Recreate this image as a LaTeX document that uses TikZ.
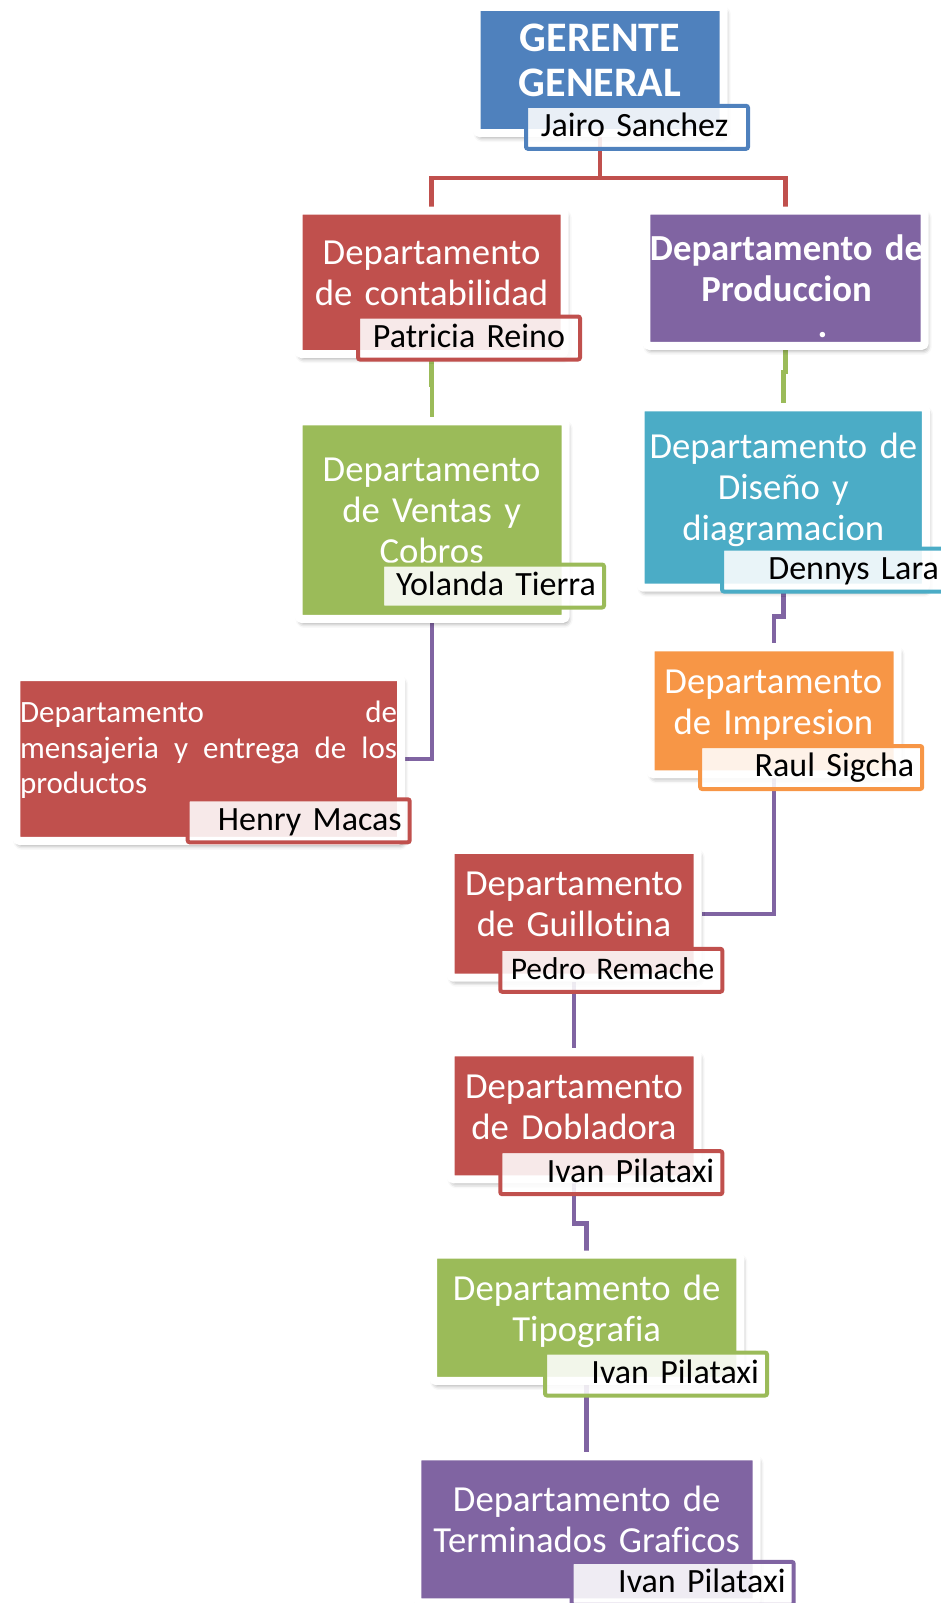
\documentclass[tikz,border=0pt]{standalone}
\usepackage{fontspec}
\setmainfont{Carlito}[Ligatures=NoCommon]
\usetikzlibrary{backgrounds,shadows.blur}

\definecolor{ofblue}{HTML}{4F81BD}
\definecolor{ofred}{HTML}{C0504D}
\definecolor{ofgreen}{HTML}{9BBB59}
\definecolor{ofpurple}{HTML}{8064A2}
\definecolor{ofaqua}{HTML}{4BACC6}
\definecolor{oforange}{HTML}{F79646}

\begin{document}
\begin{tikzpicture}[x=1pt,y=-1pt,
  dept/.style={draw=white,line width=8pt,fill=#1,rounded corners=3pt,inner sep=0pt,
    blur shadow={shadow xshift=2pt,shadow yshift=-4pt,shadow blur radius=5pt,shadow opacity=45}},
  dtext/.style={text=white,align=center,text width=330pt,inner sep=0pt,anchor=base,
    font=\fontsize{36.7}{41}\selectfont},
  boss/.style={dtext,font=\fontsize{42}{45}\selectfont\bfseries},
  pname/.style={draw=#1,line width=4pt,rounded corners=2pt,fill=white,fill opacity=0.88,
    text opacity=1,text=black,text width=206pt,align=right,inner xsep=8pt,
    minimum height=43pt,text height=18.6pt,text depth=0pt,
    font=\fontsize{34}{40}\selectfont},
  link/.style={draw=#1,line width=4.5pt}]
\useasboundingbox (0,0) rectangle (941,1603);

\node[dept=ofblue,minimum width=247pt,minimum height=126pt] (ger) at (600.2,70) {};
\node[boss] (gerT) at (600,51.7) {GERENTE\\GENERAL};
\node[pname=ofblue] (gerN) at (637,127.3) {Jairo Sanchez\kern11.7pt};

\node[dept=ofred,minimum width=266pt,minimum height=143.4pt] (cont) at (431.6,282.3) {};
\node[dtext] (contT) at (431.6,264) {Departamento\\de contabilidad};
\node[pname=ofred] (contN) at (469,338) {Patricia Reino\kern7pt};

\node[dept=ofpurple,minimum width=278.4pt,minimum height=135.2pt] (prod) at (785.5,278.2) {};
\node[dtext,font=\fontsize{36.7}{41}\selectfont\bfseries] (prodT) at (786.5,260)
  {Departamento de\\Produccion\\[-5pt]\hspace*{72pt}.};

\node[dept=ofgreen,minimum width=267pt,minimum height=197.6pt] (vent) at (432.2,520.1) {};
\node[dtext] (ventT) at (431.6,481) {Departamento\\de Ventas y\\Cobros};
\node[pname=ofgreen] (ventN) at (493,586) {Yolanda Tierra};

\node[dept=ofaqua,minimum width=285.3pt,minimum height=180.4pt] (dis) at (783.3,497.5) {};
\node[dtext] (disT) at (783.3,458.3) {Departamento de\\Diseño y\\diagramacion};
\node[pname=ofaqua] (disN) at (833,570) {Dennys Lara\kern-3pt};

\node[dept=oforange,minimum width=247pt,minimum height=127pt] (imp) at (774.2,710.8) {};
\node[dtext] (impT) at (773.3,693.3) {Departamento\\de Impresion};
\node[pname=oforange] (impN) at (811.2,767.5) {Raul Sigcha};

\node[dept=ofred,minimum width=384.7pt,minimum height=163.8pt] (mens) at (208.7,758.9) {};
\node[dtext,text width=377pt,align=justify,anchor=base west,font=\fontsize{31}{35.5}\selectfont]
  (mensT) at (19.8,722.7) {Departamento de\linebreak mensajeria y entrega de los productos};
\node[pname=ofred] (mensN) at (298.7,820.8) {Henry Macas};

\node[dept=ofred,minimum width=247pt,minimum height=127.7pt] (guil) at (574.2,913.8) {};
\node[dtext] (guilT) at (574,895) {Departamento\\de Guillotina};
\node[pname=ofred,font=\fontsize{31.5}{38}\selectfont] (guilN) at (611.3,970.3) {Pedro Remache};

\node[dept=ofred,minimum width=247pt,minimum height=127pt] (dobl) at (574.2,1115.8) {};
\node[dtext] (doblT) at (574,1098.3) {Departamento\\de Dobladora};
\node[pname=ofred] (doblN) at (611.3,1172.7) {Ivan Pilataxi};

\node[dept=ofgreen,minimum width=307.3pt,minimum height=126.3pt] (tipo) at (586.7,1317.8) {};
\node[dtext] (tipoT) at (586.7,1300) {Departamento de\\Tipografia};
\node[pname=ofgreen] (tipoN) at (656,1374) {Ivan Pilataxi};

\node[dept=ofpurple,minimum width=339.4pt,minimum height=146pt] (term) at (587,1529.3) {};
\node[dtext] (termT) at (586.7,1511.7) {Departamento de\\Terminados Graficos};
\node[pname=ofpurple] (termN) at (682.7,1583.3) {Ivan Pilataxi};

\begin{pgfonlayer}{background}
\draw[link=ofred] (ger.south) -- ++(0,41) coordinate (split) -| (cont.north);
\draw[link=ofred] (split) -| (prod.north);
\draw[link=ofgreen] (cont.south) -- ++(0,27) -| (vent.north);
\draw[link=ofgreen] (prod.south) -- ++(0,22) -| (dis.north);
\draw[link=ofpurple] (vent.south) |- (mens.east);
\draw[link=ofpurple] (dis.south) -- ++(0,25) -| (imp.north);
\draw[link=ofpurple] (imp.south) |- (guil.east);
\draw[link=ofpurple] (guil.south) -- (dobl.north);
\draw[link=ofpurple] (dobl.south) -- ++(0,40) -| (tipo.north);
\draw[link=ofpurple] (tipo.south) -- (tipo.south |- term.north);
\end{pgfonlayer}
\end{tikzpicture}
\end{document}
